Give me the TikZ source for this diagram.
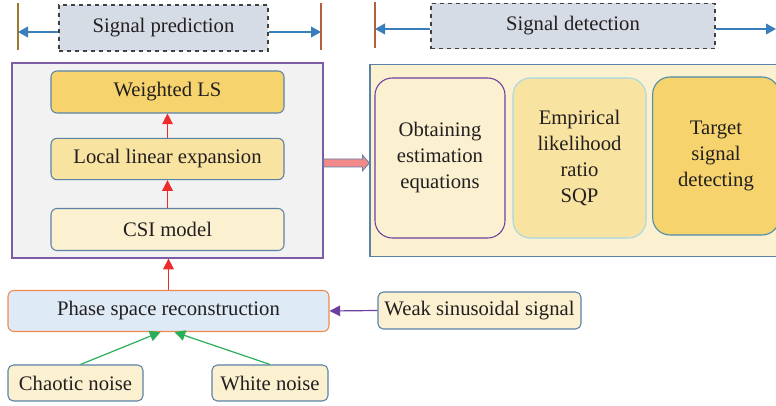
\documentclass[tikz,border=0pt]{standalone}
\usepackage{fontspec}
\setmainfont{Liberation Serif}
\usetikzlibrary{arrows.meta,calc}
\definecolor{txt}{HTML}{231F20}
\definecolor{topfill}{HTML}{D6DCE5}
\definecolor{topline}{HTML}{404040}
\definecolor{bluearr}{HTML}{3A7DBB}
\definecolor{barA}{HTML}{9C7A2E}
\definecolor{barB}{HTML}{B5603A}
\definecolor{lpfill}{HTML}{F2F2F2}
\definecolor{lpline}{HTML}{7E5BA6}
\definecolor{boxline}{HTML}{5A82A8}
\definecolor{gold}{HTML}{F6D36C}
\definecolor{midgold}{HTML}{F9E3A0}
\definecolor{cream}{HTML}{FBF0CF}
\definecolor{redarr}{HTML}{EE2B2B}
\definecolor{purp}{HTML}{7040A0}
\definecolor{cyanl}{HTML}{A6D8E6}
\definecolor{tealb}{HTML}{4A8CAE}
\definecolor{phfill}{HTML}{DEEAF5}
\definecolor{phline}{HTML}{EE8A4E}
\definecolor{purparr}{HTML}{6A3FA0}
\definecolor{greenarr}{HTML}{2BAE5A}
\definecolor{pinkarr}{HTML}{F28A8A}
\tikzset{
  every node/.style={text=txt, font=\rmfamily\fontsize{15.5}{19.5}\selectfont},
  topbox/.style={draw=topline, fill=topfill, dashed, line width=0.9pt, inner sep=0pt},
  stepbox/.style={draw=boxline, rounded corners=4.5pt, line width=0.8pt, inner sep=0pt, minimum width=174.75pt},
  bigbox/.style={rounded corners=13pt, line width=0.8pt, inner sep=0pt, align=center},
  smallbox/.style={draw=boxline, fill=cream, rounded corners=4pt, line width=0.8pt, inner sep=0pt},
  redar/.style={draw=redarr, line width=0.8pt, -{Triangle[length=8pt,width=8pt]}},
  bluear/.style={draw=bluearr, line width=1.2pt, -{Triangle[length=7.5pt,width=8pt]}},
  bar/.style={line width=0.9pt}
}
\begin{document}
\begin{tikzpicture}[x=0.75pt,y=-0.75pt]
\useasboundingbox (0,0) rectangle (776,406);
\clip (0,0) rectangle (776,406);
% top labels
\node[topbox, minimum width=156.75pt, minimum height=34.5pt] (pred) at (163.5,28) {Signal prediction};
\node[topbox, minimum width=213pt, minimum height=34pt] (det) at (573,26) {Signal detection};
\coordinate (lbarT) at (18,3); \coordinate (lbarB) at (18,50);
\coordinate (rbarT) at (321,3); \coordinate (rbarB) at (321,50);
\coordinate (dbarT) at (375,2); \coordinate (dbarB) at (375,48);
\draw[bar, draw=barA] (lbarT) -- (lbarB);
\draw[bar, draw=barB] (rbarT) -- (rbarB);
\draw[bar, draw=barB] (dbarT) -- (dbarB);
\coordinate (predL) at ($(pred.west)+(0,4)$);
\coordinate (predR) at ($(pred.east)+(0,4)$);
\coordinate (detL) at ($(det.west)+(0,3)$);
\coordinate (detR) at ($(det.east)+(0,3)$);
\coordinate (edgeR) at (776,29);
\draw[bluear] (predL) -- (predL -| lbarT);
\draw[bluear] (predR) -- (predR -| rbarT);
\draw[bluear] (detL) -- (detL -| dbarT);
\draw[bluear] (detR) -- (edgeR);
% left panel
\node[draw=lpline, fill=lpfill, line width=0.9pt, minimum width=233.25pt, minimum height=146.25pt, inner sep=0pt] (lp) at (167.5,160.5) {};
\node[stepbox, fill=gold, minimum height=31.5pt] (wls) at (167.5,92) {Weighted LS};
\node[stepbox, fill=midgold, minimum height=31pt] (lle) at (167.5,159) {Local linear expansion};
\node[stepbox, fill=cream, minimum height=31.5pt] (csi) at (167.5,229.5) {CSI model};
\draw[redar] (csi.north) -- (lle.south);
\draw[redar] (lle.north) -- (wls.south);
% right panel
\node[draw=boxline, fill=cream, line width=0.9pt, minimum width=315pt, minimum height=144pt, inner sep=0pt] (rp) at (580,160.5) {};
\node[bigbox, draw=purp, fill=cream, minimum width=97.5pt, minimum height=120pt] (b1) at (440,158) {Obtaining\\estimation\\equations};
\node[bigbox, draw=cyanl, fill=midgold, minimum width=99.75pt, minimum height=120pt] (b2) at (579.5,158) {Empirical\\likelihood\\ratio\\SQP};
\node[bigbox, draw=tealb, fill=gold, minimum width=95pt, minimum height=118.5pt] (b3) at (716,156) {Target\\signal\\detecting};
% double arrow between panels
\coordinate (da1) at ($(lp.east)+(0,2.5)$);
\coordinate (da2) at ($(rp.west)+(0,2.5)$);
\draw[draw=boxline, fill=pinkarr, line width=0.6pt]
  ($(da1)+(0,-4)$) -- ($(da2)+(-7,-4)$) -- ($(da2)+(-7,-8)$) -- (da2)
  -- ($(da2)+(-7,8)$) -- ($(da2)+(-7,4)$) -- ($(da1)+(0,4)$) -- cycle;
% bottom part
\node[draw=phline, fill=phfill, rounded corners=4.5pt, line width=0.8pt, inner sep=0pt, minimum width=240.75pt, minimum height=30.75pt] (phase) at (168.5,311) {Phase space reconstruction};
\node[smallbox, minimum width=152.25pt, minimum height=27.75pt] (weak) at (479.5,310.5) {Weak sinusoidal signal};
\node[smallbox, minimum width=101.25pt, minimum height=27pt] (chaos) at (75.5,383) {Chaotic noise};
\node[smallbox, minimum width=87pt, minimum height=27pt] (white) at (270,383) {White noise};
\draw[redar] (phase.north) -- (phase.north |- lp.south);
\draw[draw=purparr, line width=0.9pt, -{Triangle[length=8pt,width=8pt]}] (weak.west) -- (phase.east);
\coordinate (chaosTop) at ($(chaos.north)+(5,0)$);
\draw[draw=greenarr, line width=0.9pt, -{Triangle[length=8pt,width=8pt]}] (chaosTop) -- ($(phase.south)+(-8,0)$);
\draw[draw=greenarr, line width=0.9pt, -{Triangle[length=8pt,width=8pt]}] (white.north) -- ($(phase.south)+(6,0)$);
\end{tikzpicture}
\end{document}
